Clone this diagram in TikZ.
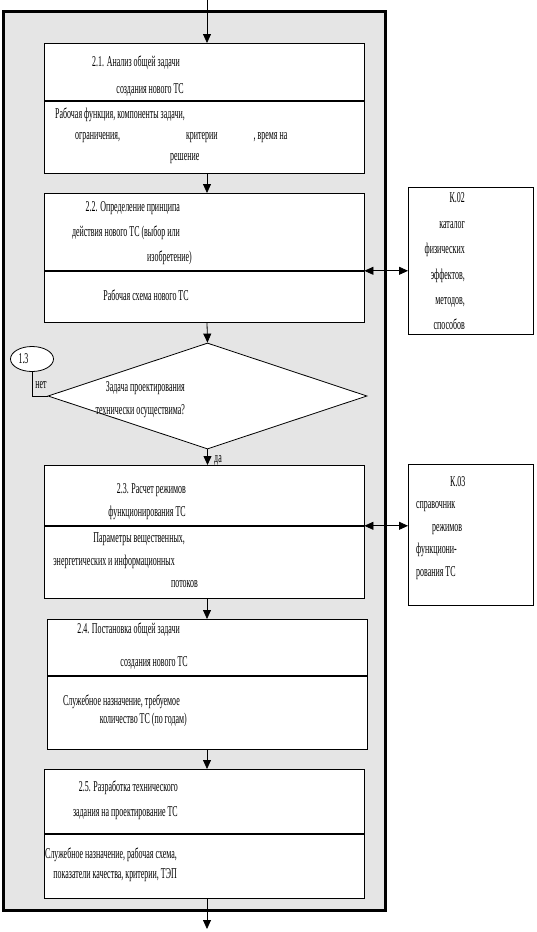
\documentclass[tikz,border=0pt]{standalone}
\usepackage{fontspec}
\setmainfont{Liberation Serif}[FakeStretch=0.53]
\usetikzlibrary{shapes.geometric, arrows.meta}

\tikzset{
    blok/.style={draw, fill=white, line width=0.8pt, minimum width=320pt, inner sep=0pt},
    kat/.style={draw, fill=white, line width=0.8pt, minimum width=125pt, inner sep=0pt, anchor=north west},
    txt/.style={font=\fontsize{15}{#1}\selectfont, inner sep=0pt},
    txt/.default=25pt,
    pil/.style={-{Triangle[length=9pt,width=8pt]}, line width=0.8pt},
    dvapil/.style={{Triangle[length=9pt,width=8pt]}-{Triangle[length=9pt,width=8pt]}, line width=0.8pt}
}

\begin{document}
\begin{tikzpicture}[x=1pt, y=-1pt]
    \useasboundingbox (0,0) rectangle (536,932);

    % 1. Серая рамка этапа
    \draw[line width=3pt, fill=gray!20] (3,11) rectangle (385,910);

    % 2. Блоки: заголовок (t..) и результат (r..)
    \foreach \n/\x/\y/\a/\b in {21/204/43/57/72, 22/204/193/77/51, 23/204/465/60/72,
                                24/207.5/619/56/73, 25/204/769/64/64} {
        \node[blok, anchor=north, minimum height=\a pt] (t\n) at (\x,\y) {};
        \node[blok, anchor=north, minimum height=\b pt] (r\n) at (t\n.south) {};
    }

    % 3. Ромб, ссылка 1.3 и справочники
    \node[draw, fill=white, diamond, aspect=3, minimum width=319pt, minimum height=106pt,
          inner sep=0pt, line width=0.8pt] (romb) at (207.5,396) {};
    \node[draw, fill=white, ellipse, minimum width=43pt, minimum height=25pt, inner sep=0pt,
          line width=0.8pt, txt] (o13) at (32,359) {1.3\kern17pt};
    \node[kat, minimum height=147pt] (k02) at (408,187) {};
    \node[kat, minimum height=141pt] (k03) at (408,464) {};

    % 4. Тексты
    \node[txt=27pt, align=right, anchor=east] (n21) at (184,76.5)
        {2.1. Анализ общей задачи\kern4pt\\создания нового ТС};
    \node[txt=21pt, align=left, anchor=west] (m21) at (55,136)
        {Рабочая функция, компоненты задачи,\\
         \hspace*{20pt}ограничения,\hspace{66pt}критерии\hspace{36pt}, время на\\
         \hspace*{115pt}решение};
    \node[txt, align=right, anchor=east] (n22) at (180,233)
        {2.2. Определение принципа\\действия нового ТС (выбор или\\изобретение)\kern-12pt};
    \node[txt] (m22) at (146,295) {Рабочая схема нового ТС};
    \node[txt=23pt, align=right, anchor=east] (nr) at (185,399.5)
        {Задача проектирования\\технически осуществима?};
    \node[txt=23pt, align=right, anchor=east] (n23) at (186,501.5)
        {2.3. Расчет режимов\\функционирования ТС};
    \node[txt=22.5pt, align=right, anchor=east] (m23) at (185,560.5)
        {Параметры вещественных,\\энергетических и информационных\kern10pt\\потоков\kern-13pt};
    \node[txt=33pt, align=right, anchor=east] (n24) at (188,646.5)
        {2.4. Постановка общей задачи\kern8pt\\создания нового ТС};
    \node[txt=18pt, align=right, anchor=east] (m24) at (187,711)
        {Служебное назначение, требуемое\kern7pt\\количество ТС (по годам)};
    \node[txt, align=right, anchor=east] (n25) at (178,800.5)
        {2.5. Разработка технического\\задания на проектирование ТС};
    \node[txt=20pt, align=right, anchor=east] (m25) at (177,865)
        {Служебное назначение, рабочая схема,\\показатели качества, критерии, ТЭП};
    \node[txt=25.4pt, align=right, anchor=east] (nk02) at (465,261.5)
        {К.02\\каталог\\физических\\эффектов,\\методов,\\способов};
    \node[txt=22.5pt, align=left, anchor=west] (nk03) at (416,528)
        {\hspace*{34pt}К.03\\справочник\\\hspace*{16pt}режимов\\функциони-\\рования ТС};
    \node[txt] (net) at (41,385) {нет};
    \node[txt] (da) at (218,460) {да};

    % 5. Связи
    \coordinate (vhod) at (207,0);
    \coordinate (vyhod) at (207,929);
    \draw[pil] (vhod) -- (vhod |- t21.north);
    \draw[pil] (r21.south -| vhod) -- (t22.north -| vhod);
    \draw[pil] (r22.south -| vhod) -- (romb.north);
    \draw[pil] (romb.south) -- (t23.north -| romb.south);
    \draw[pil] (r23.south -| vhod) -- (t24.north -| vhod);
    \draw[pil] (r24.south -| vhod) -- (t25.north -| vhod);
    \draw[pil] (r25.south -| vyhod) -- (vyhod);
    \draw[line width=0.8pt] (o13.south) |- (romb.west);
    \draw[dvapil] (t22.south east) -- (t22.south east -| k02.west);
    \draw[dvapil] (t23.south east) -- (t23.south east -| k03.west);
\end{tikzpicture}
\end{document}
